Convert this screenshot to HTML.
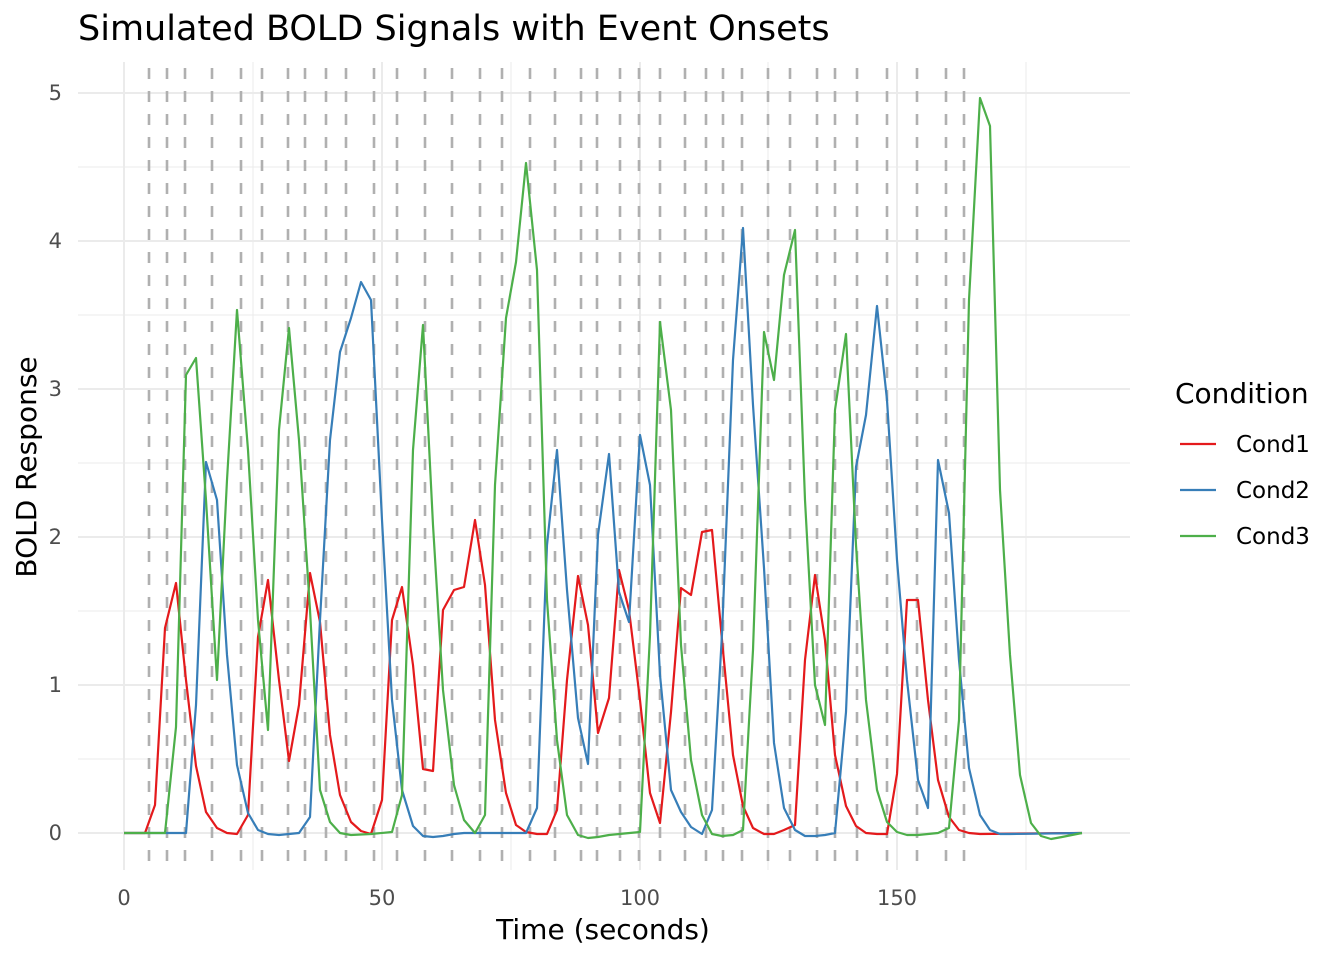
<!DOCTYPE html>
<html><head><meta charset="utf-8"><style>
body{margin:0;background:#fff;}
svg text{font-family:"DejaVu Sans","Liberation Sans",sans-serif;}
</style></head><body>
<svg width="1344" height="960" xmlns="http://www.w3.org/2000/svg">
<rect width="1344" height="960" fill="#fff"/>
<g stroke="#ebebeb" stroke-width="1">
<line x1="78" x2="1130" y1="759" y2="759"/><line x1="78" x2="1130" y1="611" y2="611"/><line x1="78" x2="1130" y1="463" y2="463"/><line x1="78" x2="1130" y1="315" y2="315"/><line x1="78" x2="1130" y1="167" y2="167"/>
<line y1="62" y2="870" x1="253" x2="253"/><line y1="62" y2="870" x1="511" x2="511"/><line y1="62" y2="870" x1="768" x2="768"/><line y1="62" y2="870" x1="1026" x2="1026"/>
</g>
<g stroke="#ebebeb" stroke-width="2">
<line x1="78" x2="1130" y1="833" y2="833"/><line x1="78" x2="1130" y1="685" y2="685"/><line x1="78" x2="1130" y1="537" y2="537"/><line x1="78" x2="1130" y1="389" y2="389"/><line x1="78" x2="1130" y1="241" y2="241"/><line x1="78" x2="1130" y1="93" y2="93"/>
<line y1="62" y2="870" x1="124" x2="124"/><line y1="62" y2="870" x1="382" x2="382"/><line y1="62" y2="870" x1="640" x2="640"/><line y1="62" y2="870" x1="897" x2="897"/>
</g>
<g stroke="#b0b0b0" stroke-width="2.6" stroke-dasharray="11 12">
<line y1="68" y2="870" x1="149" x2="149"/><line y1="68" y2="870" x1="167" x2="167"/><line y1="68" y2="870" x1="185" x2="185"/><line y1="68" y2="870" x1="212" x2="212"/><line y1="68" y2="870" x1="241" x2="241"/><line y1="68" y2="870" x1="262" x2="262"/><line y1="68" y2="870" x1="288" x2="288"/><line y1="68" y2="870" x1="305" x2="305"/><line y1="68" y2="870" x1="326" x2="326"/><line y1="68" y2="870" x1="346" x2="346"/><line y1="68" y2="870" x1="374" x2="374"/><line y1="68" y2="870" x1="397" x2="397"/><line y1="68" y2="870" x1="425" x2="425"/><line y1="68" y2="870" x1="452" x2="452"/><line y1="68" y2="870" x1="480" x2="480"/><line y1="68" y2="870" x1="502" x2="502"/><line y1="68" y2="870" x1="530" x2="530"/><line y1="68" y2="870" x1="555" x2="555"/><line y1="68" y2="870" x1="581" x2="581"/><line y1="68" y2="870" x1="597" x2="597"/><line y1="68" y2="870" x1="620" x2="620"/><line y1="68" y2="870" x1="639" x2="639"/><line y1="68" y2="870" x1="660" x2="660"/><line y1="68" y2="870" x1="685" x2="685"/><line y1="68" y2="870" x1="706" x2="706"/><line y1="68" y2="870" x1="723" x2="723"/><line y1="68" y2="870" x1="742" x2="742"/><line y1="68" y2="870" x1="768" x2="768"/><line y1="68" y2="870" x1="790" x2="790"/><line y1="68" y2="870" x1="817" x2="817"/><line y1="68" y2="870" x1="835" x2="835"/><line y1="68" y2="870" x1="857" x2="857"/><line y1="68" y2="870" x1="887" x2="887"/><line y1="68" y2="870" x1="917" x2="917"/><line y1="68" y2="870" x1="946" x2="946"/><line y1="68" y2="870" x1="964" x2="964"/>
</g>
<g fill="none" stroke-width="2.2" stroke-linejoin="round">
<polyline stroke="#e41a1c" points="124,833 145,833 155,805 165,628 176,583 186,680 196,766 206,812 217,828 227,833 237,834 248,815 258,637 268,580 279,680 289,761 299,705 310,573 320,622 330,735 340,795 351,822 361,831 371,834 382,800 392,620 402,587 413,665 423,769 433,771 443,610 454,590 464,587 475,520 485,585 495,720 506,793 516,825 526,832 537,834 547,834 557,810 567,680 578,576 588,625 598,733 609,698 619,570 629,610 640,700 650,793 660,823 671,712 681,588 691,595 702,532 712,530 722,640 733,755 743,806 753,828 764,834 774,834 784,830 795,825 805,660 815,575 825,640 835,755 846,806 856,826 866,833 877,834 887,834 897,774 907,600 918,600 928,700 938,780 949,817 959,830 969,833 980,834 1082,833"/>
<polyline stroke="#377eb8" points="124,833 186,833 196,705 206,462 217,500 227,655 237,765 248,813 258,830 268,834 279,835 289,834 299,833 310,817 320,620 330,440 340,352 351,318 361,282 371,300 382,520 392,700 402,790 413,826 423,836 433,837 443,836 454,834 464,833 526,833 537,808 547,545 557,450 567,590 578,718 588,764 598,535 609,454 619,592 629,622 640,435 650,485 660,675 671,790 681,812 691,827 702,834 712,810 722,634 733,360 743,228 753,405 764,568 774,743 784,808 795,830 805,836 815,836 825,835 835,833 846,712 856,467 866,415 877,306 887,400 897,560 907,680 918,780 928,808 938,460 949,513 959,660 969,768 980,815 990,830 1000,834 1010,834 1082,833"/>
<polyline stroke="#4daf4a" points="124,833 165,833 176,727 186,375 196,358 206,500 217,680 227,480 237,310 248,450 258,620 268,730 279,430 289,328 299,440 310,610 320,790 330,822 340,833 351,835 371,834 392,832 402,795 413,450 423,325 433,525 443,690 454,785 464,820 475,833 485,815 495,485 506,318 516,262 526,163 537,270 547,600 557,740 567,815 578,835 588,838 598,837 609,835 640,832 650,635 660,322 671,410 681,645 691,760 702,815 712,834 722,836 733,835 743,830 753,650 764,332 774,380 784,275 795,230 805,500 815,685 825,725 835,410 846,334 856,545 866,700 877,790 887,822 897,832 907,835 918,835 938,833 949,828 959,720 969,300 980,98 990,126 1000,490 1010,655 1020,775 1031,823 1041,836 1051,839 1062,837 1082,833"/>
</g>
<g fill="#4d4d4d" font-size="21" text-anchor="end">
<text x="62" y="840">0</text><text x="62" y="692">1</text><text x="62" y="544">2</text><text x="62" y="396">3</text><text x="62" y="248">4</text><text x="62" y="100">5</text>
</g>
<g fill="#4d4d4d" font-size="21" text-anchor="middle">
<text x="124" y="905">0</text><text x="382" y="905">50</text><text x="640" y="905">100</text><text x="897" y="905">150</text>
</g>
<text x="603" y="939" font-size="28" text-anchor="middle" fill="#000">Time (seconds)</text>
<text transform="translate(36,467) rotate(-90)" font-size="28" text-anchor="middle" fill="#000">BOLD Response</text>
<text x="78" y="40" font-size="35" fill="#000">Simulated BOLD Signals with Event Onsets</text>
<text x="1175" y="403" font-size="28" fill="#000">Condition</text>
<g stroke-width="2.2">
<line x1="1180" x2="1216" y1="444" y2="444" stroke="#e41a1c"/>
<line x1="1180" x2="1216" y1="490" y2="490" stroke="#377eb8"/>
<line x1="1180" x2="1216" y1="536" y2="536" stroke="#4daf4a"/>
</g>
<g font-size="23" fill="#000">
<text x="1236" y="452">Cond1</text><text x="1236" y="498">Cond2</text><text x="1236" y="544">Cond3</text>
</g>
</svg>
</body></html>
